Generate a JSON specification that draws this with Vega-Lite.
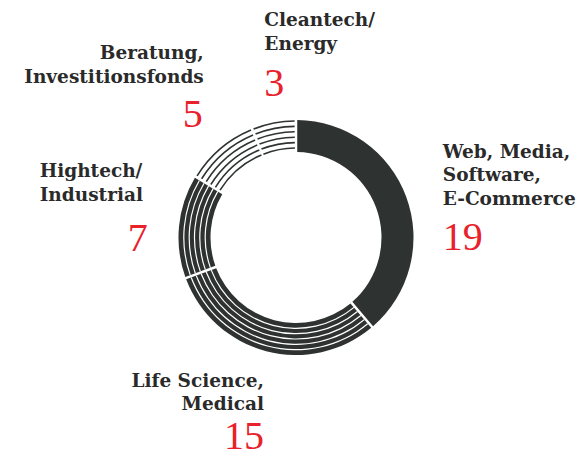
{
  "$schema": "https://vega.github.io/schema/vega-lite/v6.json",
  "width": 568,
  "height": 439,
  "autosize": "none",
  "padding": {"left": 12, "top": 18, "right": 0, "bottom": 0},
  "background": "#ffffff",
  "config": {"view": {"stroke": null}},
  "data": {
    "values": [
      {"key": "web", "label": "Web, Media,\nSoftware,\nE-Commerce", "value": 19, "order": 1},
      {"key": "life", "label": "Life Science,\nMedical", "value": 15, "order": 2},
      {"key": "high", "label": "Hightech/\nIndustrial", "value": 7, "order": 3},
      {"key": "ber", "label": "Beratung,\nInvestitionsfonds", "value": 5, "order": 4},
      {"key": "clean", "label": "Cleantech/\nEnergy", "value": 3, "order": 5}
    ]
  },
  "encoding": {
    "theta": {"field": "value", "type": "quantitative", "stack": true},
    "order": {"field": "order", "type": "quantitative"}
  },
  "layer": [
    {
      "mark": {"type": "arc", "radius": 117.5, "radius2": 85.5, "padAngle": 0.017},
      "encoding": {
        "color": {
          "condition": {"test": "datum.key == 'ber' || datum.key == 'clean'", "value": "#ffffff"},
          "value": "#2e3230"
        }
      }
    },
    {"mark": {"type": "arc", "radius": 91.4, "radius2": 90.2, "padAngle": 0.017, "fill": "#ffffff"},
     "encoding": {"fillOpacity": {"condition": {"test": "datum.key == 'life' || datum.key == 'high'", "value": 1}, "value": 0}}},
    {"mark": {"type": "arc", "radius": 96.8, "radius2": 95.6, "padAngle": 0.017, "fill": "#ffffff"},
     "encoding": {"fillOpacity": {"condition": {"test": "datum.key == 'life' || datum.key == 'high'", "value": 1}, "value": 0}}},
    {"mark": {"type": "arc", "radius": 102.1, "radius2": 100.9, "padAngle": 0.017, "fill": "#ffffff"},
     "encoding": {"fillOpacity": {"condition": {"test": "datum.key == 'life' || datum.key == 'high'", "value": 1}, "value": 0}}},
    {"mark": {"type": "arc", "radius": 107.4, "radius2": 106.2, "padAngle": 0.017, "fill": "#ffffff"},
     "encoding": {"fillOpacity": {"condition": {"test": "datum.key == 'life' || datum.key == 'high'", "value": 1}, "value": 0}}},
    {"mark": {"type": "arc", "radius": 112.8, "radius2": 111.6, "padAngle": 0.017, "fill": "#ffffff"},
     "encoding": {"fillOpacity": {"condition": {"test": "datum.key == 'life' || datum.key == 'high'", "value": 1}, "value": 0}}},
    {"mark": {"type": "arc", "radius": 90.3, "radius2": 88.7, "padAngle": 0.017, "fill": "#2e3230"},
     "encoding": {"fillOpacity": {"condition": {"test": "datum.key == 'ber' || datum.key == 'clean'", "value": 1}, "value": 0}}},
    {"mark": {"type": "arc", "radius": 95.7, "radius2": 94.1, "padAngle": 0.017, "fill": "#2e3230"},
     "encoding": {"fillOpacity": {"condition": {"test": "datum.key == 'ber' || datum.key == 'clean'", "value": 1}, "value": 0}}},
    {"mark": {"type": "arc", "radius": 101.1, "radius2": 99.5, "padAngle": 0.017, "fill": "#2e3230"},
     "encoding": {"fillOpacity": {"condition": {"test": "datum.key == 'ber' || datum.key == 'clean'", "value": 1}, "value": 0}}},
    {"mark": {"type": "arc", "radius": 106.5, "radius2": 104.9, "padAngle": 0.017, "fill": "#2e3230"},
     "encoding": {"fillOpacity": {"condition": {"test": "datum.key == 'ber' || datum.key == 'clean'", "value": 1}, "value": 0}}},
    {"mark": {"type": "arc", "radius": 111.9, "radius2": 110.3, "padAngle": 0.017, "fill": "#2e3230"},
     "encoding": {"fillOpacity": {"condition": {"test": "datum.key == 'ber' || datum.key == 'clean'", "value": 1}, "value": 0}}},
    {"mark": {"type": "arc", "radius": 117.3, "radius2": 115.7, "padAngle": 0.017, "fill": "#2e3230"},
     "encoding": {"fillOpacity": {"condition": {"test": "datum.key == 'ber' || datum.key == 'clean'", "value": 1}, "value": 0}}},
    {
      "mark": {
        "type": "text",
        "radius": 150,
        "font": "DejaVu Serif",
        "fontWeight": "bold",
        "fontSize": 18.5,
        "lineHeight": 23.5,
        "lineBreak": "\n",
        "baseline": "alphabetic",
        "color": "#2a2a2a",
        "align": {"expr": "(datum.key == 'web' || datum.key == 'clean' || datum.key == 'high') ? 'left' : 'right'"},
        "dx": {"expr": "datum.key == 'web' ? 6 : datum.key == 'life' ? 6 : datum.key == 'high' ? -107 : datum.key == 'ber' ? 5 : -3"},
        "dy": {"expr": "datum.key == 'web' ? -28 : datum.key == 'life' ? 4 : datum.key == 'high' ? -46 : datum.key == 'ber' ? -64 : -64"}
      },
      "encoding": {"text": {"field": "label", "type": "nominal"}}
    },
    {
      "mark": {
        "type": "text",
        "radius": 150,
        "font": "Liberation Serif",
        "fontSize": 40,
        "baseline": "alphabetic",
        "color": "#e8212b",
        "align": {"expr": "(datum.key == 'web' || datum.key == 'clean') ? 'left' : 'right'"},
        "dx": {"expr": "datum.key == 'web' ? 6 : datum.key == 'life' ? 6 : datum.key == 'high' ? 1 : datum.key == 'ber' ? 4 : -3"},
        "dy": {"expr": "datum.key == 'web' ? 64 : datum.key == 'life' ? 66 : datum.key == 'high' ? 28 : datum.key == 'ber' ? 4 : 6"}
      },
      "encoding": {"text": {"field": "value", "type": "quantitative"}}
    }
  ]
}
